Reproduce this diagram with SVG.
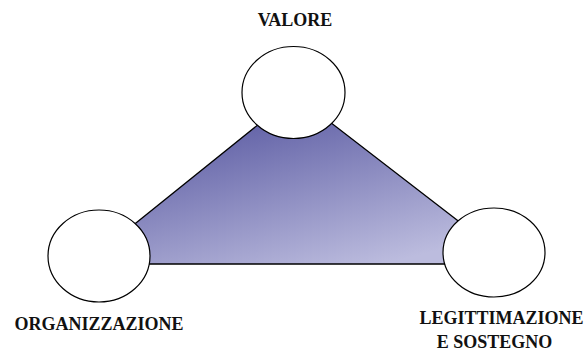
<svg xmlns="http://www.w3.org/2000/svg" width="586" height="353" viewBox="0 0 586 353">
  <style>
    .node { fill: #ffffff; stroke: #000000; stroke-width: 1.2; }
    .label { font-weight: bold; font-size: 18px; fill: #111111; text-anchor: middle; }
    .link { fill: url(#shade); stroke: #000000; stroke-width: 1.3; stroke-linejoin: miter; }
  </style>
  <defs>
    <linearGradient id="shade" gradientUnits="userSpaceOnUse" x1="260" y1="120" x2="302" y2="285">
      <stop offset="0" stop-color="#6464a8"/>
      <stop offset="1" stop-color="#bcbcde"/>
    </linearGradient>
  </defs>
  <rect width="586" height="353" fill="#ffffff"/>

  <!-- shaded triangle joining the three circles -->
  <g id="connectors">
    <polygon class="link" points="295,95 85,264 514,264"/>
  </g>

  <g font-family="'Liberation Serif', 'DejaVu Serif', serif">
    <g id="valore">
      <ellipse class="node" cx="293.5" cy="92.5" rx="51.5" ry="46"/>
      <text class="label" x="295" y="26">VALORE</text>
    </g>

    <g id="organizzazione">
      <ellipse class="node" cx="99" cy="256" rx="51" ry="46"/>
      <text class="label" x="99" y="330">ORGANIZZAZIONE</text>
    </g>

    <g id="legittimazione">
      <ellipse class="node" cx="494" cy="252.5" rx="51" ry="44.5"/>
      <text class="label" x="501.5" y="324">LEGITTIMAZIONE</text>
      <text class="label" x="494.5" y="348">E SOSTEGNO</text>
    </g>
  </g>
</svg>
